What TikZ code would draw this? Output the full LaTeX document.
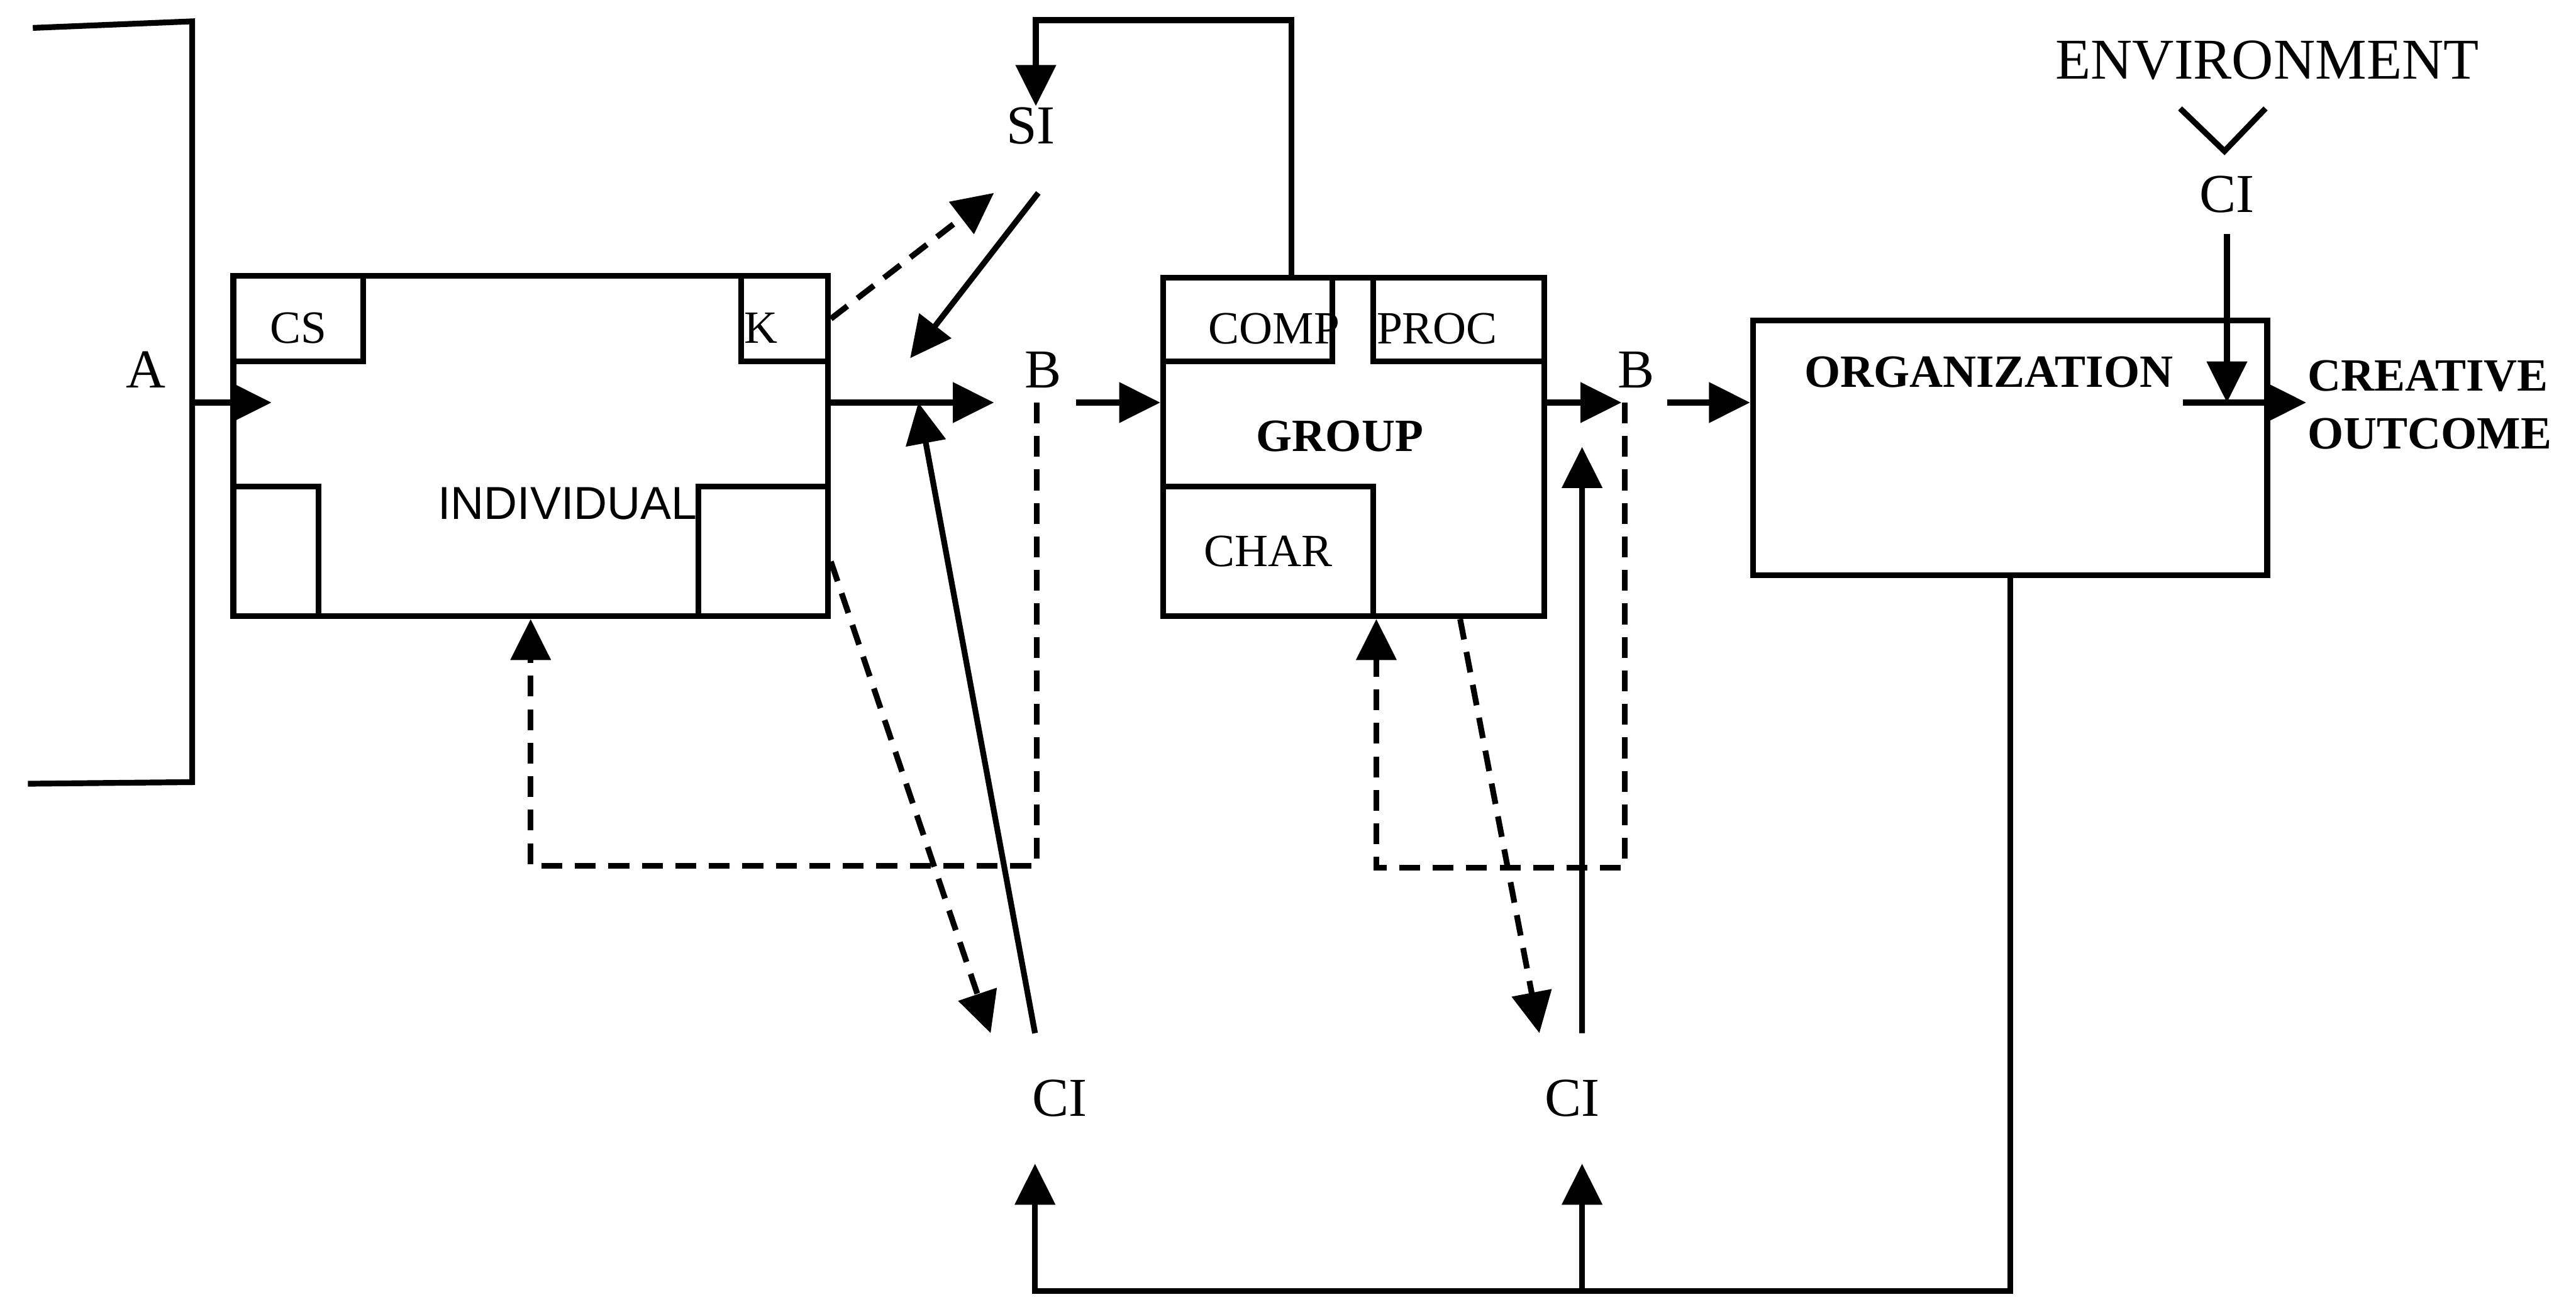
\documentclass[tikz,border=0pt]{standalone}
\usepackage{fontspec}
\setmainfont{Liberation Serif}
\newfontfamily\indfont{Liberation Sans}
\usetikzlibrary{arrows.meta}
\newcommand{\tabsize}{\fontsize{8}{9.6}\selectfont}
\newcommand{\lblsize}{\fontsize{9.5}{11}\selectfont}
\newcommand{\envsize}{\fontsize{10}{12}\selectfont}
\newcommand{\boldsize}{\fontsize{8}{10}\selectfont\bfseries}
\tikzset{
  mainbox/.style={draw, line width=1pt, inner sep=0pt},
  cell/.style={draw, line width=1pt, inner sep=0pt, font=\tabsize},
  tab/.style={cell, text height=0.3cm},
  lbl/.style={inner sep=0pt, font=\lblsize},
  boldlbl/.style={inner sep=0pt, font=\boldsize},
  line/.style={line width=1pt},
  arr/.style={-{Triangle[length=2.5mm,width=2.4mm]}, line width=1pt},
  dsh/.style={dash pattern=on 3.6pt off 2.2pt}
}
\begin{document}
\begin{tikzpicture}[x=1cm,y=1cm]
  \useasboundingbox (0,0) rectangle (15.68,-7.89);

  % main boxes
  \node[mainbox, minimum width=3.62cm, minimum height=2.07cm] (IND) at (3.23,-2.715) {};
  \node[mainbox, minimum width=2.32cm, minimum height=2.06cm] (GRP) at (8.24,-2.72) {};
  \node[mainbox, minimum width=3.13cm, minimum height=1.55cm] (ORG) at (12.235,-2.725) {};

  % compartments of the individual
  \node[tab, minimum width=0.79cm, minimum height=0.52cm] (CS) at (1.815,-1.94) {CS};
  \node[tab, text width=0.49cm, align=left, inner xsep=0.2mm, minimum height=0.52cm] (K) at (4.775,-1.94) {K};
  \node[cell, minimum width=0.52cm, minimum height=0.79cm] (IBL) at (1.68,-3.355) {};
  \node[cell, minimum width=0.79cm, minimum height=0.79cm] (IBR) at (4.645,-3.355) {};
  \node[inner sep=0pt, font=\indfont\tabsize] (INDlbl) at (3.455,-3.065) {INDIVIDUAL};

  % compartments of the group
  \node[inner sep=0pt, font=\tabsize] (COMPlbl) at (7.755,-2.00) {COMP};
  \node[cell, minimum width=1.03cm, minimum height=0.51cm] (COMP) at (7.595,-1.945) {};
  \node[tab, text width=1.0cm, align=left, inner xsep=0.2mm, minimum height=0.51cm] (PROC) at (8.88,-1.945) {PROC};
  \node[cell, minimum width=1.28cm, minimum height=0.79cm] (CHAR) at (7.72,-3.355) {CHAR};
  \node[boldlbl] (GRPlbl) at (8.155,-2.655) {GROUP};

  \node[boldlbl] (ORGlbl) at (12.105,-2.265) {ORGANIZATION};
  \node[boldlbl, align=left, anchor=west] (OUT) at (14.04,-2.465) {CREATIVE\\OUTCOME};

  % labels
  \node[lbl] (A) at (0.89,-2.25) {A};
  \node[lbl] (SI) at (6.275,-0.765) {SI};
  \node[lbl] (B1) at (6.35,-2.25) {B};
  \node[lbl] (B2) at (9.96,-2.25) {B};
  \node[lbl, minimum height=0.78cm] (CIa) at (6.45,-6.685) {CI};
  \node[lbl, minimum height=0.78cm] (CIb) at (9.57,-6.685) {CI};
  \node[lbl] (CIc) at (13.555,-1.185) {CI};
  \node[lbl, font=\envsize] (ENV) at (13.80,-0.365) {ENVIRONMENT};

  % junctions
  \coordinate (brk) at (1.17,-2.45);
  \coordinate (b1) at (6.31,-2.45);
  \coordinate (b2) at (9.89,-2.45);
  \coordinate (indin) at (IND.west |- brk);
  \coordinate (indout) at (IND.east |- b1);
  \coordinate (grpin) at (GRP.west |- b1);
  \coordinate (grpout) at (GRP.east |- b2);
  \coordinate (orgin) at (ORG.west |- b2);
  \coordinate (orgout) at (ORG.east |- b2);
  \coordinate (cia) at ([xshift=-1.5mm]CIa.south);
  \coordinate (cib) at ([xshift=0.6mm]CIb.south);

  % bracket and environment mark
  \draw[line] (0.2,-0.17) -- (1.17,-0.13) -- (1.17,-4.76) -- (0.17,-4.77);
  \draw[line] (13.27,-0.66) -- (13.54,-0.92) -- (13.79,-0.66);

  % main flow
  \draw[arr] (brk) -- ([xshift=2.5mm]indin);
  \draw[arr] (indout) -- ([xshift=-2.6mm]b1);
  \draw[arr] ([xshift=2.4mm]b1) -- (grpin);
  \draw[arr] (grpout) -- ([xshift=-0.2mm]b2);
  \draw[arr] ([xshift=2.6mm]b2) -- (orgin);
  \draw[arr] ([xshift=-5.3mm]orgout) -- ([xshift=2.2mm]orgout);
  \draw[arr] ([yshift=-1.2mm]CIc.south) -- (CIc.south |- b2);

  % social influence loop
  \draw[arr] ([xshift=-3.8mm]GRP.north) -- ++(0,1.55) -| ([xshift=0.3mm]SI.north);
  \draw[arr, dsh] (K.east) -- ([xshift=-2.25mm,yshift=-2.9mm]SI.south);
  \draw[arr] ([xshift=0.45mm,yshift=-2.9mm]SI.south) -- ([xshift=-7.7mm,yshift=2.7mm]b1);

  % feedback
  \draw[arr, dsh] (b1) -- ++(0,-2.82) -| (IND.south);
  \draw[arr, dsh] (b2) -- ++(0,-2.83) -| (CHAR.south east);
  \draw[arr, dsh] ([yshift=3.5mm]IND.south east) -- ([xshift=-4.2mm]CIa.north);
  \draw[arr, dsh] ([xshift=-5.3mm]GRP.south east) -- ([xshift=-2mm]CIb.north);
  \draw[arr] ([xshift=-1.5mm]CIa.north) -- ([xshift=-7.2mm]b1);
  \draw[arr] ([xshift=0.6mm]CIb.north) -- ([xshift=-2.6mm,yshift=-2.7mm]b2);

  \draw[arr] (ORG.south) -- ++(0,-4.34) coordinate (loop) -| (cia);
  \draw[arr] (cib |- loop) -- (cib);
\end{tikzpicture}
\end{document}
